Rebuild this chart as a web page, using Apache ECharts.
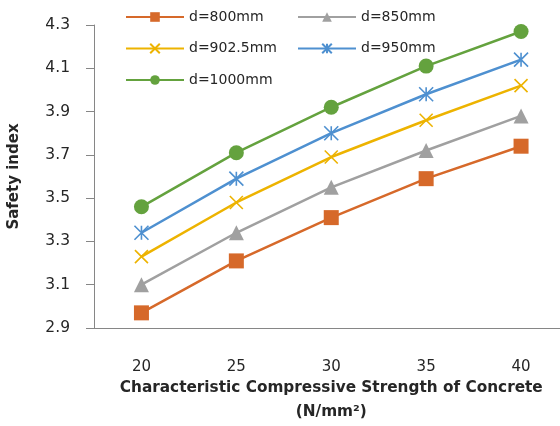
<!DOCTYPE html>
<html>
<head>
<meta charset="utf-8">
<script src="https://cdn.jsdelivr.net/npm/echarts@6/dist/echarts.min.js"></script>
<style>
html,body{margin:0;padding:0;background:#fff;}
#chart{width:560px;height:426px;}
</style>
</head>
<body>
<div id="chart"></div>
<script>
const categories = ['20', '25', '30', '35', '40'];
const d800 = [2.97, 3.21, 3.41, 3.59, 3.74];
const d850 = [3.10, 3.34, 3.55, 3.72, 3.88];
const d9025 = [3.23, 3.48, 3.69, 3.86, 4.02];
const d950 = [3.34, 3.59, 3.80, 3.98, 4.14];
const d1000 = [3.46, 3.71, 3.92, 4.11, 4.27];
const yTicks = [2.9, 3.1, 3.3, 3.5, 3.7, 3.9, 4.1, 4.3];
const seriesNames = ['d=800mm', 'd=850mm', 'd=902.5mm', 'd=950mm', 'd=1000mm'];

const colors = ['#D6692A', '#A0A0A0', '#EDB300', '#4E90D0', '#64A23E'];
const FONT = 'DejaVu Sans';
const crossPath = 'path://M0,0L10,10M10,0L0,10';
const starPath = 'path://M5,0L5,10M0,0L10,10M10,0L0,10';

function mkSeries(name, data, color, symbol, size, stroke) {
  return {
    name: name,
    type: 'line',
    data: data,
    symbol: symbol,
    symbolSize: size,
    showAllSymbol: true,
    lineStyle: { color: color, width: 2.5 },
    itemStyle: { color: color, borderColor: color, borderWidth: stroke },
    emphasis: { disabled: true },
    z: 2
  };
}

const chart = echarts.init(document.getElementById('chart'), null, { renderer: 'canvas' });
const legendCommon = {
  orient: 'vertical',
  padding: 0,
  itemWidth: 58,
  itemHeight: 12,
  itemGap: 17.5,
  textStyle: { fontFamily: FONT, fontSize: 14, color: '#262626' },
  selectedMode: false
};
chart.setOption({
  animation: false,
  backgroundColor: '#ffffff',
  legend: [
    Object.assign({}, legendCommon, { data: [seriesNames[0], seriesNames[2], seriesNames[4]], left: 125, top: 10 }),
    Object.assign({}, legendCommon, { data: [seriesNames[1], seriesNames[3]], left: 297, top: 10 })
  ],
  grid: { left: 94, top: 25, bottom: 98, right: -8.5, containLabel: false, outerBoundsMode: 'none' },
  xAxis: {
    type: 'category',
    data: categories,
    boundaryGap: true,
    axisLine: { lineStyle: { color: '#868686', width: 1 } },
    axisTick: { show: false },
    axisLabel: { margin: 32, fontFamily: FONT, fontSize: 15, color: '#262626' },
    name: 'Characteristic Compressive Strength of Concrete\n(N/mm²)',
    nameLocation: 'middle',
    nameGap: 48,
    nameMoveOverlap: false,
    nameTextStyle: { fontFamily: FONT, fontSize: 15.3, fontWeight: 'bold', color: '#262626', lineHeight: 24 }
  },
  yAxis: {
    type: 'value',
    min: 2.9,
    max: 4.3,
    axisLine: { show: true, lineStyle: { color: '#868686', width: 1 } },
    axisTick: { show: true, length: 8, customValues: yTicks, lineStyle: { color: '#868686' } },
    axisLabel: { margin: 24, fontFamily: FONT, fontSize: 15.5, color: '#262626', customValues: yTicks,
      formatter: function (v) { return v.toFixed(1); } },
    splitLine: { show: false },
    name: 'Safety index',
    nameLocation: 'middle',
    nameGap: 72,
    nameMoveOverlap: false,
    nameTextStyle: { fontFamily: FONT, fontSize: 15, fontWeight: 'bold', color: '#262626' }
  },
  series: [
    mkSeries(seriesNames[0], d800, colors[0], 'rect', 15, 0),
    mkSeries(seriesNames[1], d850, colors[1], 'triangle', 15, 0),
    mkSeries(seriesNames[2], d9025, colors[2], crossPath, 13, 1.6),
    mkSeries(seriesNames[3], d950, colors[3], starPath, 14, 1.6),
    mkSeries(seriesNames[4], d1000, colors[4], 'circle', 15, 0)
  ]
});
</script>
</body>
</html>
